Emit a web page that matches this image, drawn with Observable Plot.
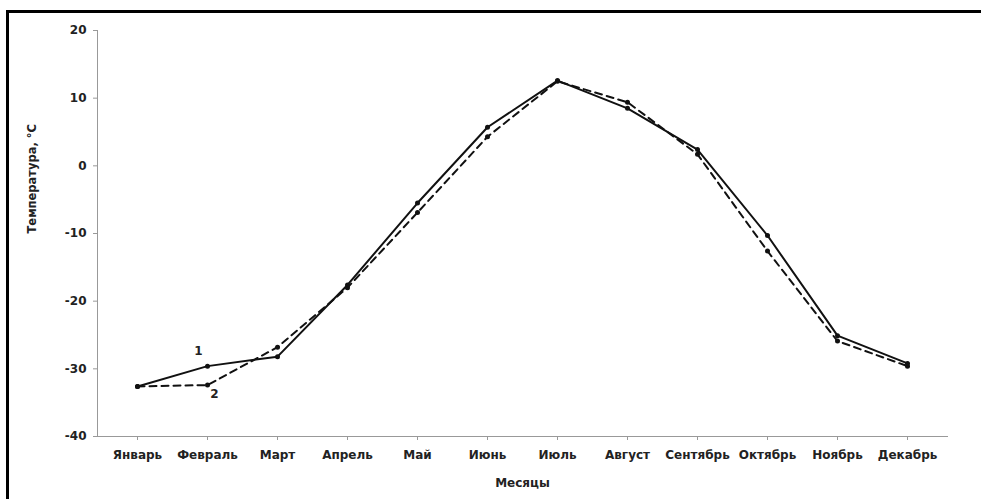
<!DOCTYPE html>
<html>
<head>
<meta charset="utf-8">
<script src="https://cdn.jsdelivr.net/npm/d3@7"></script>
<script src="https://cdn.jsdelivr.net/npm/@observablehq/plot@0.6"></script>
<style>
  html, body { margin: 0; padding: 0; background: #fff; }
  #wrap { position: relative; width: 981px; height: 499px; overflow: hidden; }
  #frame { position: absolute; left: 6px; top: 10px; width: 1000px; height: 600px;
           border-left: 3px solid #000; border-top: 3px solid #000; box-sizing: border-box; }
  #chart { position: absolute; left: 0; top: 0; }
</style>
</head>
<body>
<div id="wrap"><div id="chart"></div><div id="frame"></div></div>
<script>
const months = ["Январь","Февраль","Март","Апрель","Май","Июнь","Июль","Август","Сентябрь","Октябрь","Ноябрь","Декабрь"];
const series1 = [-32.6, -29.6, -28.2, -17.6, -5.5, 5.7, 12.6, 8.5, 2.4, -10.3, -25.1, -29.2];
const series2 = [-32.6, -32.4, -26.8, -18.0, -6.9, 4.3, 12.5, 9.4, 1.7, -12.6, -25.9, -29.6];
const yTicks = [20, 10, 0, -10, -20, -30, -40];
const xLabel = "Месяцы";
const yLabel = "Температура, °С";

const d1 = months.map((m, i) => ({month: m, t: series1[i]}));
const d2 = months.map((m, i) => ({month: m, t: series2[i]}));

const font = "'DejaVu Sans', sans-serif";
const fs = 12;
const ink = "#222";

const chart = Plot.plot({
  width: 981,
  height: 499,
  marginLeft: 97,
  marginRight: 34,
  marginTop: 30,
  marginBottom: 63,
  style: {fontFamily: font, fontSize: fs + "px", fontWeight: "bold", color: ink, background: "transparent"},
  x: {type: "point", domain: months, padding: 0.5},
  y: {domain: [-40, 20]},
  marks: [
    Plot.frame({anchor: "left", stroke: "#999"}),
    Plot.frame({anchor: "bottom", stroke: "#999"}),
    Plot.axisY({ticks: yTicks, tickFormat: d => String(d), tickSize: 4, tickPadding: 7, stroke: "#999", label: null, fontWeight: "bold", fontSize: fs}),
    Plot.axisX({tickSize: 4, tickPadding: 10, stroke: "#999", label: null, fontWeight: "bold", fontSize: fs}),
    Plot.line(d2, {x: "month", y: "t", stroke: "#111", strokeWidth: 2, strokeDasharray: "7,5"}),
    Plot.line(d1, {x: "month", y: "t", stroke: "#111", strokeWidth: 2}),
    Plot.dot(d2, {x: "month", y: "t", r: 2.5, fill: "#111"}),
    Plot.dot(d1, {x: "month", y: "t", r: 2.5, fill: "#111"}),
    Plot.text([d1[1]], {x: "month", y: "t", text: () => "1", dx: -9, dy: -15, fontWeight: "bold", fontSize: fs, fill: ink}),
    Plot.text([d2[1]], {x: "month", y: "t", text: () => "2", dx: 7, dy: 9, fontWeight: "bold", fontSize: fs, fill: ink}),
    Plot.text([xLabel], {frameAnchor: "bottom", dy: 50, fontWeight: "bold", fontSize: fs, fill: ink}),
    Plot.text([yLabel], {frameAnchor: "left", dx: -65, rotate: -90, fontWeight: "bold", fontSize: fs - 0.5, fill: ink})
  ]
});
document.getElementById("chart").appendChild(chart);
</script>
</body>
</html>
